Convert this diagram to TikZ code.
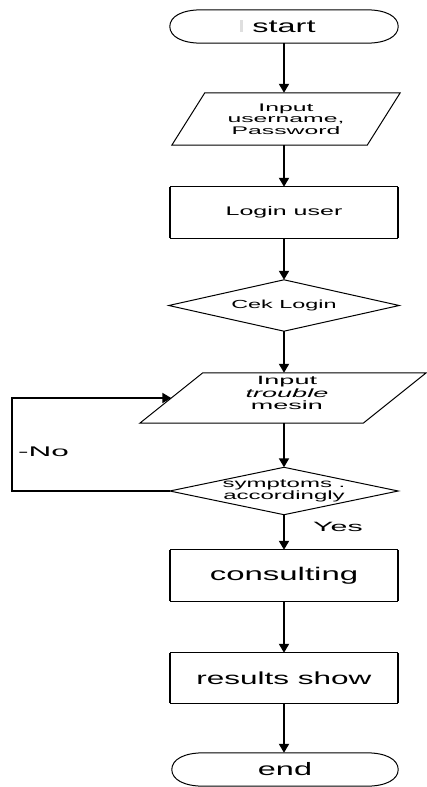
\documentclass[tikz,border=0pt]{standalone}
\usepackage{fontspec}
\setmainfont{Liberation Sans}
\newfontfamily\fsA[FakeStretch=1.8]{Liberation Sans}
\newfontfamily\fsB[FakeStretch=2.25]{Liberation Sans}
\newfontfamily\fsC[FakeStretch=2.0]{Liberation Sans}
\usetikzlibrary{arrows.meta,calc}
\newcommand\terminalshape[1]{%
  \draw[outline] (#1.west) .. controls ($(#1.west)+(0,-10)$) and ($(#1.north west)+(12,0)$) .. ($(#1.north west)+(32,0)$)
    -- ($(#1.north east)+(-32,0)$) .. controls ($(#1.north east)+(-12,0)$) and ($(#1.east)+(0,-10)$) .. (#1.east)
    .. controls ($(#1.east)+(0,10)$) and ($(#1.south east)+(-12,0)$) .. ($(#1.south east)+(-32,0)$)
    -- ($(#1.south west)+(32,0)$) .. controls ($(#1.south west)+(12,0)$) and ($(#1.west)+(0,10)$) .. cycle;}
\newcommand\parashape[2]{%
  \draw[outline] ($(#1.north west)+(#2,0)$) -- (#1.north east) -- ($(#1.south east)+(-#2,0)$) -- (#1.south west) -- cycle;}
\newcommand\diamondshape[1]{%
  \draw[outline] (#1.north) -- (#1.east) -- (#1.south) -- (#1.west) -- cycle;}
\newcommand\rectshape[1]{%
  \draw[line width=1pt] (#1.north west) -- (#1.north east) (#1.south west) -- (#1.south east);
  \draw[line width=2pt] (#1.north west) -- (#1.south west) (#1.north east) -- (#1.south east);}
\tikzset{
  box/.style={rectangle, inner sep=0pt, minimum width=228pt, minimum height=51pt, align=center},
  outline/.style={line width=1pt},
  arr/.style={line width=1.8pt, -{Triangle[length=9pt,width=10pt]}},
  lbl/.style={inner sep=0pt}
}
\begin{document}
\begin{tikzpicture}[x=1pt,y=-1pt]
\useasboundingbox (0,0) rectangle (427,787);

\node[box, minimum height=33pt, font=\fsA\fontsize{18}{20}\selectfont] (start) at (284,26.5) {start};
\terminalshape{start}
\fill[gray!25] (240,20) rectangle (243,32);

\node[box, minimum height=52pt, font=\fsB\fontsize{11}{11.5}\selectfont] (in1) at (286,119) {Input\\username,\\Password};
\parashape{in1}{33}

\node[box, font=\fsC\fontsize{12.5}{14}\selectfont] (login) at (284,212.5) {Login user};
\rectshape{login}

\node[box, minimum width=230pt, minimum height=51pt, font=\fsC\fontsize{11.7}{14}\selectfont] (dec1) at (284,305.5) {Cek Login};
\diamondshape{dec1}

\node[box, minimum width=286pt, minimum height=50pt] (in2) at (283,398) {};
\parashape{in2}{63}
\node[font=\fsB\fontsize{12}{12.5}\selectfont, align=center, inner sep=0pt] (in2t) at (287,393) {Input\\\textit{trouble}\\mesin};
\coordinate (in2w) at ($(in2.west)+(31.5,0)$);

\node[box, minimum height=47pt, font=\fsC\fontsize{12}{12}\selectfont] (dec2) at (284,491) {symptoms .\\accordingly};
\diamondshape{dec2}

\node[box, font=\fsA\fontsize{18.3}{20}\selectfont] (cons) at (284,575.5) {consulting};
\rectshape{cons}
\node[box, minimum height=50pt, font=\fsA\fontsize{17.5}{20}\selectfont] (res) at (284,678) {results show};
\rectshape{res}

\node[box, minimum width=226pt, minimum height=33pt, font=\fsA\fontsize{18}{20}\selectfont] (stop) at (285,769.5) {end};
\terminalshape{stop}

\draw[arr] (start.south) -- (start.south |- in1.north);
\draw[arr] (in1.south -| login.north) -- (login.north);
\draw[arr] (login.south) -- (login.south |- dec1.north);
\draw[arr] (dec1.south) -- (dec1.south |- in2.north);
\draw[arr] (in2.south -| dec2.north) -- (dec2.north);
\draw[arr] (dec2.south) -- (cons.north);
\draw[arr] (cons.south) -- (res.north);
\draw[arr] (res.south) -- (res.south |- stop.north);
\draw[arr] (dec2.west) -- ++(-158,0) |- (in2w);

\node[lbl, anchor=west, font=\fsB\fontsize{14}{16}\selectfont] (nolbl) at (18,452) {-No};
\node[lbl, font=\fsB\fontsize{13.5}{16}\selectfont] (yeslbl) at (338,527) {Yes};
\end{tikzpicture}
\end{document}
